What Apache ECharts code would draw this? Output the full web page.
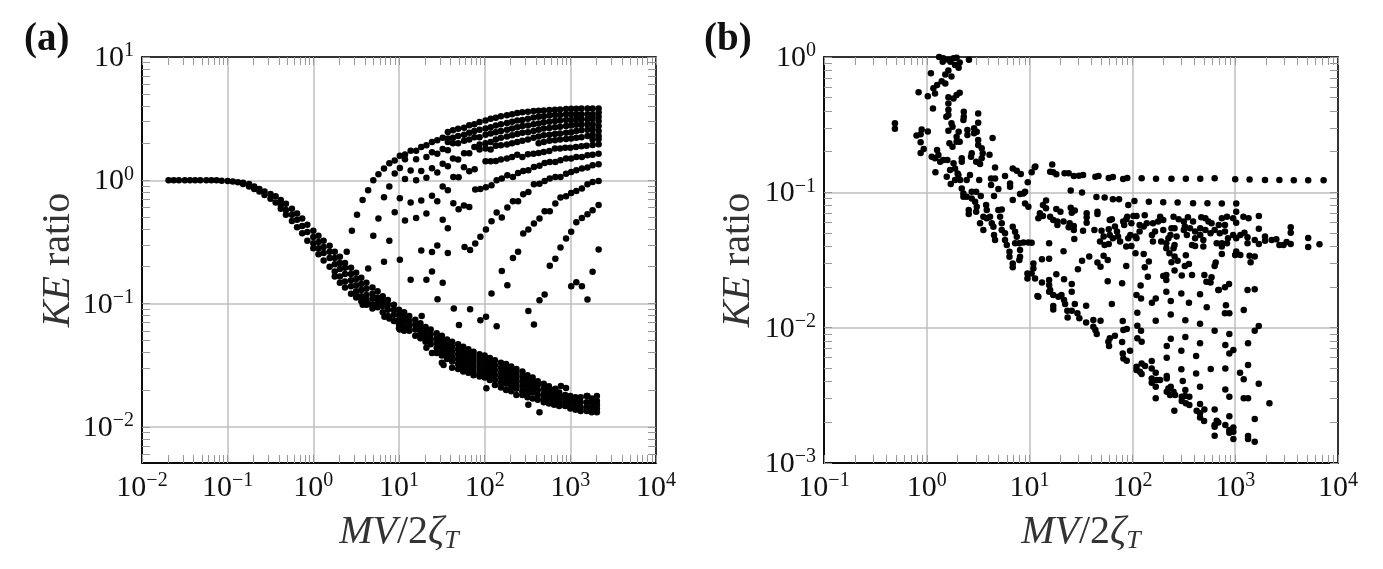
<!DOCTYPE html>
<html>
<head>
<meta charset="utf-8">
<title>KE ratio</title>
<script src="https://cdn.jsdelivr.net/npm/echarts@6/dist/echarts.min.js"></script>
<style>
  html, body { margin: 0; padding: 0; background: #fff; }
  #main { width: 1383px; height: 569px; }
</style>
</head>
<body>
<div id="main"></div>
<script>
// all values are log10 readings
// panel a, lower band: [logMV, logKE, logKE, ...] per column
const aBandColumns = [
  [-1.69,0],[-1.63,0],[-1.57,0],[-1.5,0],[-1.44,0],[-1.38,0],[-1.32,0],[-1.25,0],[-1.19,0],[-1.13,0],
  [-1.07,-.003],[-1,-.005],[-.94,-.01],[-.88,-.015],[-.82,-.02,-.03],[-.75,-.03,-.05],[-.69,-.05,-.07],
  [-.63,-.07,-.09],[-.57,-.09,-.12],[-.5,-.11,-.15],[-.44,-.13,-.18],[-.38,-.16,-.2,-.23],[-.32,-.19,-.24,-.28],
  [-.25,-.23,-.28,-.33],[-.19,-.27,-.32,-.38],[-.13,-.31,-.37,-.43],[-.07,-.36,-.42,-.49],[0,-.41,-.46,-.51,-.55],
  [.06,-.45,-.5,-.55,-.6],[.12,-.49,-.54,-.59,-.65],[.19,-.53,-.58,-.63,-.7],[.25,-.58,-.63,-.68,-.74,-.78],
  [.31,-.62,-.67,-.72,-.78,-.83],[.37,-.67,-.71,-.76,-.82,-.87],[.44,-.71,-.76,-.81,-.86,-.92],[.5,-.75,-.8,-.85,-.9,-.95],
  [.56,-.79,-.84,-.89,-.94,-.98],[.62,-.83,-.88,-.93,-.97,-1.01],[.69,-.87,-.92,-.96,-1.01,-1.04],[.75,-.9,-.95,-.99,-1.03],
  [.81,-.94,-.98,-1.02,-1.07],[.87,-.97,-1.01,-1.05,-1.1],[.94,-1.01,-1.05,-1.09,-1.14],[1,-1.05,-1.09,-1.13,-1.17,-1.2],
  [1.06,-1.07,-1.11,-1.15,-1.19,-1.22],[1.12,-1.1,-1.14,-1.18,-1.22],[1.19,-1.13,-1.17,-1.21,-1.26],[1.25,-1.16,-1.2,-1.24,-1.28],
  [1.31,-1.19,-1.23,-1.27,-1.31],[1.37,-1.21,-1.25,-1.29,-1.33],[1.44,-1.24,-1.28,-1.32,-1.36,-1.4],[1.5,-1.26,-1.3,-1.34,-1.38,-1.42,-1.48],
  [1.56,-1.29,-1.33,-1.37,-1.41,-1.45],[1.62,-1.31,-1.35,-1.39,-1.43,-1.47,-1.52],[1.69,-1.33,-1.37,-1.41,-1.45,-1.49,-1.53],
  [1.75,-1.35,-1.39,-1.43,-1.47,-1.51,-1.55],[1.81,-1.37,-1.41,-1.45,-1.49,-1.53,-1.56],[1.87,-1.39,-1.43,-1.47,-1.51,-1.55,-1.58],
  [1.94,-1.41,-1.45,-1.49,-1.53,-1.57,-1.59],[2,-1.42,-1.46,-1.5,-1.54,-1.58,-1.6],[2.06,-1.44,-1.48,-1.52,-1.56,-1.6,-1.62],
  [2.12,-1.46,-1.5,-1.54,-1.58,-1.62,-1.66],[2.19,-1.48,-1.52,-1.56,-1.6,-1.64,-1.68],[2.25,-1.49,-1.53,-1.57,-1.61,-1.65,-1.7],
  [2.31,-1.51,-1.55,-1.59,-1.63,-1.67,-1.71],[2.37,-1.53,-1.57,-1.61,-1.65,-1.69,-1.74],[2.44,-1.55,-1.59,-1.63,-1.67,-1.71,-1.74],
  [2.5,-1.58,-1.62,-1.66,-1.7,-1.74,-1.76],[2.56,-1.6,-1.64,-1.68,-1.72,-1.77],[2.62,-1.63,-1.66,-1.7,-1.74,-1.78],
  [2.69,-1.65,-1.69,-1.73,-1.77,-1.8],[2.75,-1.67,-1.71,-1.75,-1.79,-1.81],[2.81,-1.7,-1.73,-1.76,-1.79,-1.82],
  [2.87,-1.72,-1.75,-1.78,-1.81,-1.83],[2.94,-1.74,-1.77,-1.8,-1.83],[3,-1.75,-1.78,-1.81,-1.85],[3.06,-1.76,-1.79,-1.82,-1.86],
  [3.12,-1.76,-1.8,-1.84,-1.87],[3.19,-1.75,-1.8,-1.84,-1.87],[3.25,-1.77,-1.8,-1.84,-1.88],[3.31,-1.75,-1.79,-1.82,-1.85,-1.88]
]
// panel a, dense rows at the top right
const aDenseColumns = [
  [1.57,.392,.34,.31,.243],[1.63,.405,.345,.3,.176],[1.69,.419,.36,.3,.168],[1.76,.427,.37,.32,.219],[1.82,.446,.385,.33,.22],
  [1.88,.454,.4,.35,.27],[1.94,.473,.41,.35,.29,.249],[2.01,.486,.42,.37,.3,.257],[2.07,.5,.43,.38,.31,.249],
  [2.13,.508,.445,.39,.33,.28],[2.19,.519,.455,.4,.345,.285],[2.26,.527,.465,.41,.355,.29],[2.32,.535,.475,.42,.365,.3],
  [2.38,.546,.485,.43,.375,.31],[2.44,.551,.49,.44,.385,.32],[2.505,.556,.5,.445,.39,.33],[2.57,.562,.51,.455,.4,.345],
  [2.63,.565,.515,.46,.41,.355,.3],[2.69,.567,.52,.47,.42,.365,.31],[2.755,.57,.525,.475,.425,.37,.32],[2.82,.572,.53,.48,.43,.375,.325],
  [2.88,.575,.53,.485,.435,.38,.33],[2.95,.578,.535,.49,.44,.385,.335],[3.01,.58,.535,.49,.445,.39,.34],[3.07,.58,.535,.495,.45,.4,.345],
  [3.13,.583,.535,.495,.45,.405,.35],[3.2,.583,.535,.495,.455,.41,.36],[3.26,.583,.535,.5,.455,.415,.37,.33],[3.33,.583,.55,.515,.48,.44,.4,.36,.335]
]
// panel a, the separate dots and rising rows: [logMV, logKE]
const aFamilyPoints = [
  [.39,-.58],[.45,-.41],[.51,-.28],[.575,-.16],[.64,-.08],[.7,0],[.76,.05],[.825,.095],[.887,.138],[.95,.16],[1.01,.2],[1.07,.21],
  [1.136,.24],[1.2,.24],[1.26,.27],[1.32,.284],[1.385,.31],[1.447,.324],[1.51,.346],
  [.7,-.45],[.76,-.31],[.825,-.137],[.825,-.66],[.887,-.05],[.887,-.49],[.95,.055],[.95,-.26],[1.01,.1],[1.01,-.145],[1.01,-.645],
  [1.07,.17],[1.07,.01],[1.07,-.326],[1.136,.08],[1.136,-.18],[1.136,-.807],[1.2,.17],[1.2,0],[1.2,-.305],[1.26,.075],[1.26,-.164],[1.26,-.57],
  [1.32,.19],[1.32,.02],[1.32,-.27],[1.32,-.807],[1.385,.227],[1.385,.098],[1.385,-.126],[1.385,-.582],[1.385,-.74],
  [1.447,.216],[1.447,.063],[1.447,-.17],[1.447,-.529],[1.51,.254],[1.51,.135],[1.51,-.05],[1.51,-.32],[1.51,-.83],
  [1.57,.114],[1.57,-.08],[1.57,-.388],[1.57,-.59],[1.634,.027],[1.634,-.186],[1.696,.025],[1.696,-.234],
  [1.758,.106],[1.758,-.205],[1.82,.073],[1.82,-.216],[1.883,.09],
  // row ending near 0.216
  [1.89,-.075],[1.95,-.07],[2.015,-.056],[2.08,-.04],[2.14,0],[2.2,.014],[2.265,.041],[2.33,.027],[2.39,.06],[2.45,.076],[2.51,.081],[2.575,.108],
  [2.64,.119],[2.7,.141],[2.76,.149],[2.825,.149],[2.885,.162],[2.95,.176],[3.01,.176],[3.07,.189],[3.135,.189],[3.2,.203],[3.26,.208],[3.33,.216],
  // row ending near 0.292
  [2.01,.154],[2.07,.154],[2.13,.157],[2.19,.168],[2.26,.176],[2.32,.189],[2.38,.208],[2.44,.189],[2.505,.211],[2.57,.216],[2.63,.222],[2.69,.23],
  [2.755,.238],[2.82,.257],[2.88,.257],[2.94,.265],[3,.265],[3.065,.27],[3.13,.276],[3.19,.281],[3.26,.286],[3.33,.292],
  // row ending near 0.13
  [1.765,-.54],[1.83,-.566],[1.89,-.512],[1.95,-.458],[2.015,-.399],[2.08,-.332],[2.14,-.261],[2.2,-.302],[2.265,-.221],[2.33,-.17],[2.39,-.17],
  [2.45,-.113],[2.51,-.094],[2.575,-.032],[2.64,-.027],[2.7,-.005],[2.76,.014],[2.825,.027],[2.885,.027],[2.95,.054],[3.01,.068],[3.07,.081],
  [3.135,.095],[3.2,.103],[3.26,.122],[3.33,.13],
  // row ending near 0
  [2.2,-.736],[2.265,-.85],[2.33,-.631],[2.39,-.58],[2.45,-.431],[2.51,-.399],[2.575,-.35],[2.64,-.31],[2.7,-.25],[2.76,-.25],[2.825,-.189],
  [2.885,-.14],[2.95,-.129],[3.01,-.102],[3.07,-.086],[3.135,-.067],[3.2,-.032],[3.26,-.013],[3.33,-.005],
  // row ending near -0.2
  [2.76,-.693],[2.825,-.637],[2.885,-.545],[2.95,-.472],[3.01,-.418],[3.07,-.34],[3.135,-.305],[3.2,-.275],[3.26,-.243],[3.33,-.2],
  // right end scatter
  [3.01,-.86],[3.07,-.826],[3.135,-.86],[3.26,-.742],[3.33,-.561],
  // low lying dots
  [1.265,-1.1],[1.45,-.964],[1.64,-1.04],[1.7,-1.174],[1.83,-1.045],[2.08,-.918],[1.95,-1.134],[2.016,-1.107],[2.14,-1.183],
  [2.51,-1.06],[2.575,-1.169],[2.64,-.972],[2.7,-.926],[3.2,-.967],
  // strays around the lower band
  [.64,-.715],[.51,-.94],[.576,-1.01],[.64,-1.004],[.83,-1.107],[.887,-1.12],[1.01,-1.21],[1.32,-1.358],[1.385,-1.4],[1.52,-1.498],
  [2.02,-1.687],[2.51,-1.82],[2.64,-1.88],[2.825,-1.69],[2.89,-1.668],[2.95,-1.685],[3.2,-1.749]
]
// panel b: [logMV, logKE]
const bPoints = [
  [-.31,-.49],[-.31,-.53],[-.1,-.58],[-.06,-.57],[-.05,-.535],[.01,-.55],[-.06,-.63],[-.03,-.68],[-.06,-.71],[-.08,-.26],[.04,-.12],[.01,-.29],[.06,-.38],
  [.12,0],[.16,-.01],[.21,-.02],[.26,-.01],[.29,-.005],[.32,-.04],[.41,-.02],[.155,-.035],[.23,-.035],[.275,-.06],[.31,-.08],[.21,-.1],[.18,-.13],[.24,-.145],
  [.145,-.18],[.18,-.195],[.1,-.207],[.064,-.23],[.08,-.27],[.32,-.264],[.29,-.28],[.26,-.306],[.21,-.298],[.21,-.343],[.21,-.39],[.21,-.429],[.19,-.441],
  [.36,-.404],[.36,-.441],[.356,-.466],[.5,-.417],[.5,-.485],[.486,-.552],[.24,-.49],[.25,-.515],[.21,-.545],[.31,-.552],[.29,-.589],[.29,-.626],[.32,-.626],
  [.395,-.54],[.395,-.577],[.46,-.527],[.46,-.564],[.64,-.599],[.22,-.638],[.25,-.663],[.437,-.712],[.43,-.737],[.5,-.614],[.5,-.65],[.534,-.675],[.544,-.712],
  [.61,-.722],[.534,-.749],[.48,-.774],[.518,-.791],[.1,-.687],[.113,-.724],[.048,-.737],[.08,-.749],[.13,-.774],[.16,-.761],[.2,-.761],[.34,-.749],[.34,-.774],
  [.084,-.852],[.26,-.786],[.275,-.823],[.3,-.86],[.226,-.835],[.194,-.885],[.307,-.872],[.233,-.939],[.275,-.909],[.324,-.909],[.388,-.909],[.42,-.872],[.51,-.909],
  [.664,-.816],[.625,-.897],[.664,-.897],[.625,-.946],[.761,-.88],[.696,-.976],[.654,-1.027],[.81,-.934],[.81,-.958],[.836,-.823],[.875,-.84],[.914,-.865],
  [1.02,-.852],[1.056,-.81],[.982,-.926],[.907,-1.013],[.94,-1.008],[.956,-.995],[.836,-1.057],[.956,-1.082],[.988,-1.106],[.34,-.971],[.356,-1.008],[.356,-1.032],
  [.388,-1.032],[.437,-.995],[.48,-.995],[.437,-1.045],[.47,-1.069],[.525,-1.027],[.486,-1.106],[.48,-1.143],[.408,-1.131],[.408,-1.16],[.577,-1.094],[.583,-1.131],
  [.55,-1.18],[.583,-1.192],[.615,-1.18],[.696,-1.131],[.729,-1.126],[.713,-1.18],[.632,-1.229],[.648,-1.254],[.518,-1.229],[.55,-1.279],[.654,-1.316],[.664,-1.352],
  [.729,-1.229],[.729,-1.279],[.761,-1.303],[.761,-1.352],[.778,-1.389],[.836,-1.254],[.859,-1.291],[.875,-1.328],[.9,-1.377],[.94,-1.37],[.988,-1.37],[.859,-1.377],
  [.907,-1.426],[.907,-1.476],[.9,-1.5],[.804,-1.439],[.804,-1.476],[.836,-1.525],[.836,-1.554],[1.037,-1.525],[1.037,-1.562],[1.02,-1.599],[.979,-1.599],[.979,-1.636],
  [1.053,-1.636],[1.076,-1.766],
  // top row
  [1.05,-.815],[1.22,-.795],[1.2,-.847],[1.23,-.852],[1.26,-.867],[1.34,-.859],[1.38,-.859],[1.43,-.879],[1.48,-.877],[1.52,-.872],[1.64,-.884],[1.67,-.879],[1.77,-.894],
  [1.81,-.886],[1.91,-.901],[1.95,-.894],[2.09,-.896],[2.23,-.899],[2.38,-.899],[2.52,-.899],[2.66,-.899],[2.8,-.896],[3,-.904],[3.14,-.906],[3.29,-.909],[3.43,-.909],
  [3.57,-.911],[3.71,-.911],[3.86,-.911],
  // second row
  [1.4,-.987],[1.51,-1.002],[1.65,-1.034],[1.73,-1.039],[1.81,-1.051],[1.87,-1.051],[1.96,-1.093],[2.02,-1.064],[2.16,-1.069],[2.3,-1.074],[2.44,-1.076],[2.59,-1.081],
  [2.73,-1.081],[2.87,-1.083],[3.01,-1.083],
  [1.16,-1.061],[1.13,-1.093],[1.16,-1.118],[1.26,-1.123],[1.3,-1.143],[1.4,-1.113],[1.44,-1.135],[1.41,-1.15],[1.1,-1.155],[1.13,-1.175],[1.085,-1.192],[1.2,-1.18],
  [1.23,-1.204],[1.27,-1.216],[1.27,-1.241],[1.33,-1.216],[1.39,-1.229],[1.38,-1.258],[1.43,-1.248],[1.43,-1.278],[1.555,-1.155],[1.555,-1.184],[1.555,-1.224],[1.66,-1.143],
  [1.66,-1.16],[1.52,-1.283],[1.63,-1.278],[1.7,-1.283],[1.435,-1.344],[1.19,-1.377],[1.33,-1.436],[1.02,-1.372],
  [3.01,-1.143],[2.98,-1.192],[3.01,-1.224],[3.08,-1.18],[3.13,-1.192],[3.23,-1.175],[3.09,-1.298],[3.23,-1.27],[3.54,-1.258],[3.54,-1.298],[3.71,-1.337],[3.71,-1.404],
  [3.82,-1.384],[3.54,-1.381],[3.5,-1.367],[3.47,-1.389],[3.43,-1.389],[3.4,-1.347],[3.355,-1.352],[3.29,-1.327],[3.29,-1.357],[3.23,-1.381],[3.19,-1.352],[3.12,-1.332],[3.12,-1.377],
  // the cloud around 0.05
  [1.78,-1.204],[1.8,-1.199],[1.77,-1.273],[1.83,-1.253],[1.85,-1.29],[1.86,-1.327],[1.78,-1.315],[1.81,-1.34],[1.72,-1.327],[1.685,-1.364],[1.73,-1.389],[1.77,-1.381],
  [1.88,-1.364],[1.91,-1.216],[1.94,-1.199],[1.95,-1.18],[1.92,-1.241],[2.01,-1.175],[2.04,-1.175],[2.12,-1.17],[1.99,-1.229],[2.03,-1.327],[1.98,-1.315],[1.96,-1.34],
  [2.07,-1.241],[2.11,-1.253],[2.14,-1.229],[2.07,-1.29],[2.04,-1.34],[1.94,-1.401],[1.99,-1.396],[2.2,-1.229],[2.19,-1.315],[2.2,-1.364],[2.27,-1.18],[2.3,-1.204],[2.25,-1.216],
  [2.22,-1.29],[2.3,-1.278],[2.28,-1.364],[2.35,-1.34],[2.33,-1.377],[2.33,-1.414],[2.4,-1.18],[2.45,-1.199],[2.38,-1.266],[2.41,-1.266],[2.37,-1.315],[2.43,-1.327],[2.41,-1.389],
  [2.4,-1.414],[2.5,-1.216],[2.54,-1.184],[2.59,-1.216],[2.51,-1.253],[2.5,-1.278],[2.56,-1.266],[2.53,-1.315],[2.61,-1.29],[2.61,-1.34],[2.58,-1.389],[2.61,-1.396],[2.67,-1.184],
  [2.71,-1.192],[2.66,-1.266],[2.71,-1.278],[2.66,-1.315],[2.69,-1.352],[2.69,-1.401],[2.74,-1.216],[2.77,-1.229],[2.76,-1.303],[2.8,-1.278],[2.87,-1.192],[2.92,-1.18],[2.84,-1.241],
  [2.9,-1.241],[2.85,-1.303],[2.9,-1.29],[2.82,-1.377],[2.87,-1.377],[2.92,-1.377],[2.87,-1.401],[2.98,-1.315],[3.01,-1.34],[3.05,-1.315],[2.93,-1.34],
  // below the cloud
  [2.03,-1.45],[2.11,-1.455],[2.16,-1.512],[2.12,-1.554],[1.72,-1.468],[1.76,-1.5],[1.58,-1.475],[1.51,-1.505],[1.47,-1.569],[1.66,-1.519],[1.69,-1.549],[1.94,-1.544],
  [2.36,-1.45],[2.38,-1.517],[2.41,-1.475],[2.44,-1.505],[2.52,-1.465],[2.51,-1.544],[2.55,-1.529],[2.41,-1.578],[2.3,-1.618],[2.33,-1.611],[2.33,-1.647],[2.15,-1.623],[2.48,-1.615],
  [2.58,-1.611],[2.7,-1.611],[2.77,-1.628],[2.72,-1.66],[2.76,-1.667],[2.81,-1.519],[2.8,-1.544],[2.87,-1.455],[3,-1.463],[3.01,-1.438],[3.05,-1.463],[3.14,-1.468],[3.19,-1.475],
  [3.15,-1.517],[1.76,-1.657],[1.9,-1.672],[2.08,-1.689],[2.84,-1.721],[2.9,-1.702],[2.94,-1.677],[3.12,-1.721],[3.19,-1.716],
  [1.12,-1.495],[1.19,-1.49],[1.12,-1.667],[1.26,-1.606],[1.335,-1.643],[1.41,-1.677],[1.19,-1.647],[1.19,-1.684],[1.2,-1.721],
  // lower wedge
  [1.085,-1.771],[1.19,-1.734],[1.23,-1.759],[1.28,-1.771],[1.31,-1.759],[1.335,-1.796],[1.345,-1.825],[1.23,-1.84],[1.23,-1.865],[1.367,-1.875],[1.41,-1.875],[1.44,-1.825],
  [1.55,-1.838],[1.37,-1.924],[1.465,-1.894],[1.484,-1.931],[1.55,-1.961],[1.62,-1.944],[1.62,-1.993],[1.64,-2.018],[1.653,-2.047],[1.69,-1.949],[1.8,-1.825],[1.41,-1.734],
  [1.906,-1.951],[1.912,-2.018],[1.945,-2.01],[1.83,-2.059],[1.78,-2.079],[1.766,-2.104],[1.773,-2.136],[1.9,-2.106],[1.977,-2.17],[1.906,-2.19],[1.912,-2.227],[1.945,-2.244],
  [2.04,-1.759],[2.084,-1.784],[2.19,-1.816],[2.227,-1.784],[2.33,-1.734],[2.476,-1.747],[2.658,-1.754],[2.836,-1.722],[2.373,-1.803],[2.55,-1.816],[2.723,-1.85],[2.91,-1.835],
  [2.048,-1.889],[2.373,-1.902],[2.9,-1.894],[2.943,-1.894],[3.083,-1.87],[2.227,-1.949],[2.515,-1.946],[2.658,-1.971],[2.048,-1.986],[2.084,-2.022],[2.048,-2.079],[2.09,-2.104],
  [2.8,-2.022],[2.943,-2.047],[3.19,-2.022],[3.229,-1.988],[2.373,-2.082],[2.515,-2.069],[2.334,-2.136],[2.658,-2.116],[2.476,-2.17],[2.904,-2.128],[3.125,-2.116],[2.982,-2.165],
  [2.943,-2.19],[2.334,-2.222],[2.62,-2.21],[2.04,-2.288],[2.04,-2.313],[2.09,-2.264],[2.123,-2.284],[2.074,-2.325],[2.09,-2.343],[2.188,-2.247],[2.188,-2.301],[2.227,-2.333],
  [2.476,-2.308],[2.62,-2.338],[2.762,-2.306],[2.904,-2.301],[3.125,-2.276],[3.047,-2.333],[3.083,-2.382],[3.229,-2.414],[2.334,-2.357],[2.334,-2.375],[2.188,-2.375],[2.188,-2.407],
  [2.236,-2.387],[2.269,-2.387],[2.227,-2.436],[2.49,-2.394],[2.658,-2.436],[2.904,-2.456],[2.943,-2.51],[3.083,-2.522],[3.125,-2.522],[3.333,-2.559],[2.227,-2.522],
  [2.35,-2.449],[2.373,-2.436],[2.334,-2.473],[2.366,-2.498],[2.4,-2.473],[2.415,-2.498],[2.515,-2.461],[2.48,-2.51],[2.512,-2.505],[2.554,-2.51],[2.48,-2.542],[2.52,-2.559],
  [2.554,-2.572],[2.658,-2.564],[2.408,-2.614],[2.625,-2.614],[2.658,-2.633],[2.7,-2.604],[2.658,-2.663],[2.697,-2.69],[2.8,-2.604],[2.82,-2.687],[2.836,-2.7],[2.8,-2.72],[2.8,-2.732],
  [2.8,-2.798],[2.943,-2.655],[2.904,-2.72],[2.943,-2.756],[2.982,-2.737],[2.982,-2.769],[2.943,-2.776],[2.982,-2.823],[3.125,-2.801],[3.125,-2.823],[3.19,-2.675],[3.19,-2.843]
]

const serifFont = '"Liberation Serif", serif'

function fromColumns (columns) {
  const out = []
  columns.forEach(col => {
    col.slice(1).forEach(y => out.push([col[0], y]))
  })
  return out
}

function toValues (points) {
  return points.map(p => [Math.pow(10, p[0]), Math.pow(10, p[1])])
}

// 1..9 times each decade, used for the small inner ticks
function logTicks (fromExp, toExp) {
  const ticks = []
  for (let e = fromExp; e < toExp; e++) {
    for (let m = 1; m < 10; m++) {
      ticks.push(Number((m * Math.pow(10, e)).toPrecision(3)))
    }
  }
  ticks.push(Math.pow(10, toExp))
  return ticks
}

function powerLabel (value) {
  const exp = Math.round(Math.log10(value))
  if (Math.abs(Math.log10(value) - exp) > 0.01) return ''
  return '{b|10}{s|' + String(exp).replace('-', '\u2212') + '}'
}

const labelRich = {
  b: { fontFamily: serifFont, fontSize: 30, color: '#111', lineHeight: 32, verticalAlign: 'bottom' },
  s: { fontFamily: serifFont, fontSize: 20, color: '#111', lineHeight: 32, verticalAlign: 'top' }
}
const nameRich = {
  i: { fontFamily: serifFont, fontSize: 40, fontStyle: 'italic', color: '#333', lineHeight: 44 },
  n: { fontFamily: serifFont, fontSize: 40, color: '#333', lineHeight: 44 },
  sub: { fontFamily: serifFont, fontSize: 26, fontStyle: 'italic', color: '#333', lineHeight: 44, verticalAlign: 'bottom' }
}

// main axis: labels, name and grid lines, no ticks
function mainAxis (gridIndex, position, min, max, name, nameGap) {
  return {
    type: 'log',
    logBase: 10,
    gridIndex: gridIndex,
    position: position,
    min: min,
    max: max,
    name: name,
    nameLocation: 'middle',
    nameGap: nameGap,
    nameMoveOverlap: false,
    nameTextStyle: { rich: nameRich },
    axisLine: { show: true, onZero: false, lineStyle: { color: '#000', width: 1.5 } },
    axisTick: { show: false },
    splitLine: { show: true, lineStyle: { color: '#bfbfbf', width: 1.5 } },
    axisLabel: { show: true, margin: 8, formatter: powerLabel, rich: labelRich, hideOverlap: false, showMinLabel: true, showMaxLabel: true }
  }
}

// tick only axis, one for each side of a panel
function tickAxis (gridIndex, position, min, max, ticks) {
  return {
    type: 'log',
    logBase: 10,
    gridIndex: gridIndex,
    position: position,
    min: min,
    max: max,
    axisLine: { show: true, onZero: false, lineStyle: { color: '#000', width: 1.5 } },
    axisTick: { show: true, inside: true, length: 8, customValues: ticks, lineStyle: { color: '#999', width: 1 } },
    splitLine: { show: false },
    axisLabel: { show: false }
  }
}

const aTicksX = logTicks(-2, 4)
const aTicksY = logTicks(-3, 1).filter(v => v >= 0.0052)
const bTicksX = logTicks(-1, 4)
const bTicksY = logTicks(-3, 0)
const xName = '{i|MV}{n|/2}{i|\u03b6}{sub|T}'
const yName = '{i|KE}{n|\u00a0ratio}'
const dot = { type: 'scatter', symbol: 'circle', symbolSize: 6.5, itemStyle: { color: '#000', opacity: 1 }, silent: true, z: 5 }

const myChart = echarts.init(document.getElementById('main'), null, { renderer: 'canvas' })
myChart.setOption({
  animation: false,
  backgroundColor: '#fff',
  title: [
    { text: '(a)', left: 19, top: 15, textStyle: { fontFamily: serifFont, fontWeight: 'bold', fontSize: 39, color: '#111' } },
    { text: '(b)', left: 699, top: 15, textStyle: { fontFamily: serifFont, fontWeight: 'bold', fontSize: 39, color: '#111' } }
  ],
  grid: [
    { left: 142, top: 57, width: 514, height: 406 },
    { left: 824, top: 57, width: 514, height: 406 }
  ],
  xAxis: [
    mainAxis(0, 'bottom', 0.01, 10000, xName, 47),
    tickAxis(0, 'bottom', 0.01, 10000, aTicksX),
    tickAxis(0, 'top', 0.01, 10000, aTicksX),
    mainAxis(1, 'bottom', 0.1, 10000, xName, 47),
    tickAxis(1, 'bottom', 0.1, 10000, bTicksX),
    tickAxis(1, 'top', 0.1, 10000, bTicksX)
  ],
  yAxis: [
    mainAxis(0, 'left', 0.0051, 10, yName, 62),
    tickAxis(0, 'left', 0.0051, 10, aTicksY),
    tickAxis(0, 'right', 0.0051, 10, aTicksY),
    mainAxis(1, 'left', 0.001, 1, yName, 64),
    tickAxis(1, 'left', 0.001, 1, bTicksY),
    tickAxis(1, 'right', 0.001, 1, bTicksY)
  ],
  series: [
    Object.assign({}, dot, { name: 'a band', xAxisIndex: 0, yAxisIndex: 0, data: toValues(fromColumns(aBandColumns)) }),
    Object.assign({}, dot, { name: 'a dense', xAxisIndex: 0, yAxisIndex: 0, data: toValues(fromColumns(aDenseColumns)) }),
    Object.assign({}, dot, { name: 'a family', xAxisIndex: 0, yAxisIndex: 0, data: toValues(aFamilyPoints) }),
    Object.assign({}, dot, { name: 'b', xAxisIndex: 3, yAxisIndex: 3, data: toValues(bPoints) })
  ]
})
</script>
</body>
</html>
